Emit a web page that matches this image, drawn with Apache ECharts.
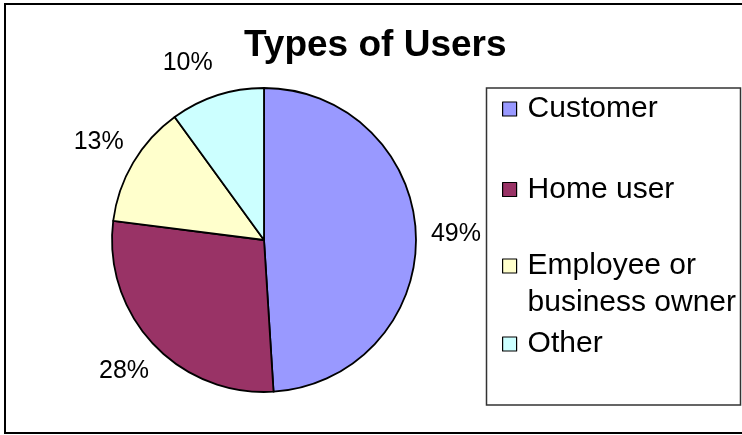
<!DOCTYPE html>
<html>
<head>
<meta charset="utf-8">
<script src="https://cdn.jsdelivr.net/npm/echarts@6/dist/echarts.min.js"></script>
<style>
  html, body { margin: 0; padding: 0; background: #fff; }
  #chart { width: 742px; height: 435px; }
</style>
</head>
<body>
<div id="chart"></div>
<script>
// Share of each user type (percent)
const categories = ['Customer', 'Home user', 'Employee or business owner', 'Other'];
const shares = [49, 28, 13, 10];
const sliceColors = ['#9999FF', '#993366', '#FFFFCC', '#CCFFFF'];
const chartTitle = 'Types of Users';

const FONT = "'Liberation Sans', Arial, sans-serif";
const CX = 264, CY = 240, R = 152;

const chart = echarts.init(document.getElementById('chart'), null, { renderer: 'canvas' });

const pieData = categories.map((name, i) => ({
  name,
  value: shares[i],
  itemStyle: { color: sliceColors[i] }
}));

// Transparent ring carrying the percentage labels just outside the pie
const labelData = categories.map((name, i) => {
  const item = { name, value: shares[i] };
  if (name === 'Other') {
    item.label = { offset: [-17, 6] };
  }
  return item;
});

// Square swatch for wrapped entries: the swatch sits beside the first line,
// the empty move-to points only stretch the icon box to the text block height
const TOP_SWATCH = 'path://M0,0M0,4.5L14,4.5L14,18.5L0,18.5ZM0,60';

// One legend block per entry, so each row sits where it belongs in the box
const legendTops = [88.5, 169, 245.5, 323.5];
const legends = categories.map((name, i) => {
  const wrapped = name.indexOf(' or ') >= 0;
  return {
    data: [name],
    orient: 'vertical',
    left: 502,
    top: legendTops[i],
    padding: 0,
    itemWidth: 14,
    itemHeight: wrapped ? 60 : 14,
    icon: wrapped ? TOP_SWATCH : 'rect',
    selectedMode: false,
    formatter: (n) => n.replace(' or ', ' or\n'),
    itemStyle: { borderColor: '#000', borderWidth: 1.2 },
    textStyle: {
      fontFamily: FONT,
      fontSize: 30,
      color: '#000',
      lineHeight: 37,
      padding: [0, 0, 4, 6]
    }
  };
});

const option = {
  animation: false,
  backgroundColor: '#fff',
  title: {
    text: chartTitle,
    left: 244,
    top: 27,
    padding: 0,
    textStyle: {
      fontFamily: FONT,
      fontSize: 37,
      fontWeight: 'bold',
      color: '#000',
      lineHeight: 37
    }
  },
  legend: legends,
  graphic: [
    {
      type: 'rect',
      shape: { x: 5, y: 4, width: 760, height: 429 },
      style: { fill: null, stroke: '#000', lineWidth: 2 },
      silent: true,
      z: -1
    },
    {
      type: 'rect',
      shape: { x: 486.5, y: 88, width: 254, height: 317 },
      style: { fill: null, stroke: '#333', lineWidth: 1.5 },
      silent: true,
      z: -1
    }
  ],
  series: [
    {
      type: 'pie',
      center: [CX, CY],
      radius: R,
      startAngle: 90,
      clockwise: true,
      data: pieData,
      label: { show: false },
      labelLine: { show: false },
      itemStyle: { borderColor: '#000', borderWidth: 1.8 },
      emphasis: { disabled: true },
      silent: true
    },
    {
      type: 'pie',
      center: [CX, CY],
      radius: [R + 18, R + 56],
      startAngle: 90,
      clockwise: true,
      data: labelData,
      itemStyle: { color: 'rgba(0,0,0,0)', borderWidth: 0 },
      label: {
        show: true,
        position: 'inside',
        formatter: '{d}%',
        fontFamily: FONT,
        fontSize: 25,
        color: '#000',
        rotate: 0
      },
      labelLine: { show: false },
      emphasis: { disabled: true },
      silent: true,
      legendHoverLink: false
    }
  ]
};

chart.setOption(option);
</script>
</body>
</html>
